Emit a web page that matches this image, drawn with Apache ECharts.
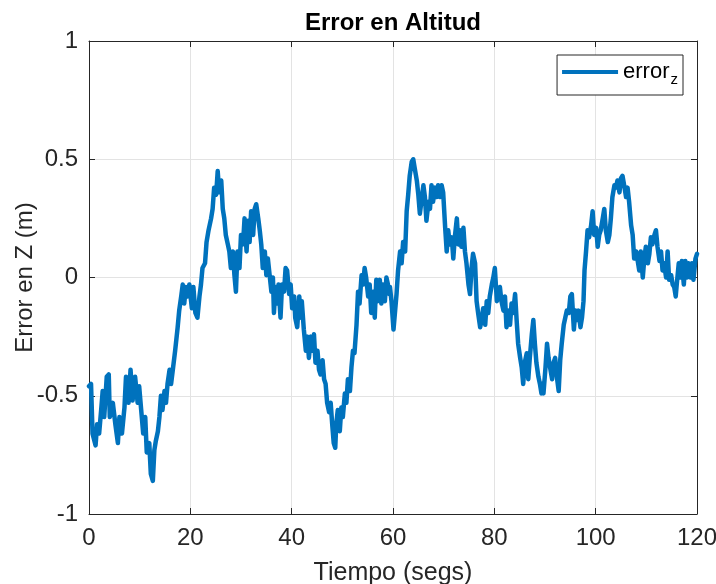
<!DOCTYPE html>
<html>
<head>
<meta charset="utf-8">
<script src="https://cdn.jsdelivr.net/npm/echarts@6/dist/echarts.min.js"></script>
<style>
html,body{margin:0;padding:0;background:#fff;}
#chart{width:716px;height:584px;}
</style>
</head>
<body>
<div id="chart"></div>
<script>
// ---- Data (time in s, altitude error in m) ----
var timeA = [0.0,0.4,0.7,1.3,1.6,2.0,2.4,2.7,3.0,3.5,3.9,4.1,4.7,5.2,5.7,6.0,6.5,7.0,7.3,7.8,8.2,8.6,9.1,9.6,9.9,10.3,10.7,11.1,11.4,11.9,12.2,12.6,12.9,13.2,13.6,13.9,14.2,14.5,14.9,15.2,15.5,15.9,16.2,16.6,17.0,17.5,17.8,18.2,18.5,18.8,19.1,19.5,19.8,20.3,20.6,21.0,21.4,21.8,22.1,22.4,22.9,23.2,23.6,24.1,24.4,24.7,25.1,25.4,25.7,26.1,26.4,26.7,27.0,27.4,27.7,28.0,28.4,28.7,29.0,29.3,29.7,30.0];
var errA = [-0.46,-0.45,-0.66,-0.71,-0.62,-0.66,-0.56,-0.48,-0.59,-0.42,-0.41,-0.59,-0.53,-0.62,-0.70,-0.59,-0.66,-0.55,-0.42,-0.53,-0.39,-0.52,-0.42,-0.53,-0.46,-0.56,-0.66,-0.59,-0.74,-0.70,-0.83,-0.86,-0.73,-0.69,-0.65,-0.59,-0.50,-0.56,-0.48,-0.53,-0.45,-0.39,-0.45,-0.38,-0.31,-0.21,-0.14,-0.08,-0.03,-0.11,-0.04,-0.08,-0.03,-0.13,-0.04,-0.15,-0.17,-0.08,-0.03,0.04,0.06,0.15,0.20,0.25,0.29,0.38,0.35,0.45,0.36,0.41,0.29,0.25,0.18,0.14,0.11,0.04,0.11,0.01,-0.06,0.11,0.04,0.18];

var timeB = [30.4,30.7,31.1,31.4,31.7,32.0,32.4,32.7,33.0,33.4,33.7,34.0,34.3,34.7,35.0,35.3,35.7,36.0,36.3,36.5,36.8,37.2,37.4,37.8,38.1,38.5,38.8,39.1,39.5,39.8,40.1,40.5,40.7,41.1,41.5,41.8,42.0,42.4,42.8,43.1,43.4,43.8,44.0,44.4,44.7,45.1,45.4,45.7,46.1,46.4,46.7,47.0,47.4,47.7,48.0,48.3,48.6,48.8,49.1,49.5,49.8,50.1,50.5,50.8,51.1,51.5,51.8,52.1,52.4,52.8,53.1,53.4,53.8,54.1,54.4,54.7,55.1,55.4,55.7,56.1,56.4,56.7,57.0,57.4,57.7,58.0,58.4,58.7,59.0,59.3];
var errB = [0.14,0.25,0.11,0.24,0.15,0.28,0.18,0.29,0.31,0.25,0.20,0.14,0.04,0.11,0.01,0.08,0.0,-0.06,0.0,-0.15,-0.04,-0.11,-0.03,-0.17,-0.03,-0.06,0.04,0.03,-0.07,-0.03,-0.13,-0.08,-0.17,-0.21,-0.08,-0.17,-0.10,-0.22,-0.31,-0.25,-0.34,-0.25,-0.31,-0.24,-0.36,-0.31,-0.39,-0.41,-0.35,-0.43,-0.45,-0.53,-0.57,-0.53,-0.62,-0.70,-0.72,-0.62,-0.56,-0.65,-0.55,-0.59,-0.49,-0.53,-0.43,-0.48,-0.38,-0.31,-0.32,-0.20,-0.06,-0.11,0.01,-0.03,0.04,0.0,-0.08,-0.03,-0.15,-0.06,-0.17,-0.01,-0.10,-0.01,-0.11,-0.03,-0.10,0.0,-0.03,-0.07];

var timeC = [59.4,59.7,60.1,60.4,60.7,61.0,61.4,61.7,62.0,62.4,62.7,63.0,63.3,63.7,64.0,64.3,64.7,65.0,65.3,65.6,66.0,66.3,66.6,67.0,67.3,67.6,67.9,68.3,68.6,68.9,69.3,69.6,69.9,70.3,70.6,70.9,71.2,71.6,71.9,72.2,72.6,72.9,73.2,73.5,73.9,74.2,74.5,74.9,75.2,75.5,75.8,76.2,76.5,76.8,77.2,77.5,77.8,78.2,78.5,78.8,79.1,79.5,79.8,80.1,80.5,80.8,81.1,81.4,81.8,82.1,82.4,82.8,83.1,83.4,83.7,84.1,84.4,84.7,85.1,85.4,85.7,86.0,86.4,86.7,87.0,87.4,87.7,88.0,88.3,88.7,89.0,89.3];
var errC = [-0.04,-0.10,-0.22,-0.22,-0.07,0.03,0.11,0.06,0.15,0.11,0.28,0.35,0.43,0.49,0.50,0.46,0.41,0.35,0.27,0.32,0.39,0.34,0.24,0.32,0.29,0.39,0.32,0.38,0.34,0.39,0.34,0.39,0.36,0.21,0.11,0.20,0.14,0.17,0.08,0.17,0.25,0.14,0.20,0.13,0.21,0.11,0.06,-0.03,-0.07,0.04,0.10,0.06,-0.10,-0.15,-0.21,-0.18,-0.13,-0.20,-0.10,-0.15,-0.08,-0.03,0.0,0.04,-0.10,-0.06,-0.04,-0.10,-0.14,-0.08,-0.21,-0.14,-0.20,-0.11,-0.15,-0.07,-0.18,-0.28,-0.34,-0.38,-0.45,-0.36,-0.32,-0.43,-0.34,-0.24,-0.18,-0.28,-0.36,-0.42,-0.45,-0.49];

var timeD = [89.4,89.7,90.1,90.4,90.7,91.0,91.4,91.7,92.0,92.4,92.7,93.0,93.3,93.7,94.0,94.3,94.7,95.0,95.3,95.7,96.0,96.3,96.6,97.0,97.3,97.6,97.8,98.1,98.4,98.7,99.1,99.4,99.7,100.1,100.4,100.7,101.0,101.4,101.7,102.0,102.4,102.7,103.0,103.3,103.7,104.0,104.3,104.7,105.0,105.3,105.7,106.0,106.3,106.6,107.0,107.3,107.6,108.0,108.3,108.6,108.9,109.3,109.6,109.9,110.3,110.6,110.9,111.2,111.6,111.9,112.2,112.6,112.9,113.2,113.5,113.9,114.2,114.5,114.9,115.2,115.5,115.8,116.0,116.4,116.7,117.0,117.4,117.7,118.0,118.3,118.7,119.0,119.3,119.7,120.0];
var errD = [-0.45,-0.49,-0.38,-0.28,-0.34,-0.38,-0.43,-0.36,-0.34,-0.43,-0.48,-0.35,-0.28,-0.20,-0.17,-0.14,-0.15,-0.08,-0.07,-0.22,-0.14,-0.18,-0.14,-0.21,-0.17,-0.10,0.03,0.11,0.20,0.17,0.22,0.28,0.18,0.21,0.13,0.18,0.20,0.25,0.29,0.20,0.15,0.18,0.25,0.34,0.39,0.38,0.41,0.36,0.42,0.43,0.38,0.34,0.38,0.32,0.22,0.18,0.08,0.11,0.07,0.03,0.11,0.0,0.08,0.13,0.06,0.10,0.17,0.14,0.18,0.20,0.13,0.07,0.11,0.03,0.06,0.0,0.11,-0.01,0.01,-0.03,-0.04,-0.08,-0.03,0.06,0.0,0.07,-0.03,0.07,0.0,0.06,0.0,0.06,-0.01,0.08,0.10];

var xTicks = [0, 20, 40, 60, 80, 100, 120];
var yTicks = [-1, -0.5, 0, 0.5, 1];
var seriesName = 'error_z';

// ---- Build the series from the arrays ----
function pairs(t, v) {
  var out = [];
  var n = Math.min(t.length, v.length);
  for (var i = 0; i < n; i++) out.push([t[i], v[i]]);
  return out;
}
var lineData = [].concat(pairs(timeA, errA), pairs(timeB, errB), pairs(timeC, errC), pairs(timeD, errD));

var FONT = '"Liberation Sans", Arial, Helvetica, sans-serif';
var AX = '#262626';
var GRID = '#e3e3e3';

var chart = echarts.init(document.getElementById('chart'), null, {renderer: 'canvas'});
var xCommon = {
  type: 'value', min: xTicks[0], max: xTicks[xTicks.length - 1], interval: 20,
  axisLine: {show: true, onZero: false, lineStyle: {color: AX, width: 1}},
  axisTick: {show: true, inside: true, length: 6, lineStyle: {color: AX}}
};
var yCommon = {
  type: 'value', min: yTicks[0], max: yTicks[yTicks.length - 1], interval: 0.5,
  axisLine: {show: true, onZero: false, lineStyle: {color: AX, width: 1}},
  axisTick: {show: true, inside: true, length: 6, lineStyle: {color: AX}}
};

chart.setOption({
  animation: false,
  backgroundColor: '#fff',
  title: {
    text: 'Error en Altitud',
    left: 393, top: 11, textAlign: 'center', padding: 0,
    textStyle: {fontFamily: FONT, fontSize: 24, fontWeight: 'bold', color: '#000'}
  },
  grid: {left: 89, right: 19, top: 41, bottom: 70, containLabel: false, outerBoundsMode: 'none'},
  legend: {
    data: [seriesName],
    right: 33, top: 55,
    orient: 'vertical',
    backgroundColor: '#fff',
    borderColor: AX, borderWidth: 1,
    padding: [6, 5, 8, 5],
    icon: 'rect', itemWidth: 56, itemHeight: 4, itemGap: 0,
    formatter: function () { return '{a|error}{b|z}'; },
    textStyle: {
      fontFamily: FONT, color: '#000', padding: [0, 0, 0, 0],
      rich: {
        a: {fontFamily: FONT, fontSize: 22, color: '#000'},
        b: {fontFamily: FONT, fontSize: 15, color: '#000', padding: [15, 0, 0, 1]}
      }
    }
  },
  xAxis: [
    Object.assign({}, xCommon, {
      position: 'bottom',
      name: 'Tiempo (segs)', nameLocation: 'middle', nameGap: 47,
      nameMoveOverlap: false,
      nameTextStyle: {fontFamily: FONT, fontSize: 25, color: AX},
      axisLabel: {show: true, margin: 12, fontFamily: FONT, fontSize: 24, color: AX},
      splitLine: {show: true, lineStyle: {color: GRID, width: 1}}
    }),
    Object.assign({}, xCommon, {
      position: 'top',
      axisLabel: {show: false},
      splitLine: {show: false}
    })
  ],
  yAxis: [
    Object.assign({}, yCommon, {
      position: 'left',
      name: 'Error en Z (m)', nameLocation: 'middle', nameGap: 52,
      nameMoveOverlap: false,
      nameTextStyle: {fontFamily: FONT, fontSize: 24, color: AX},
      axisLabel: {show: true, margin: 11, fontFamily: FONT, fontSize: 24, color: AX},
      splitLine: {show: true, lineStyle: {color: GRID, width: 1}}
    }),
    Object.assign({}, yCommon, {
      position: 'right',
      axisLabel: {show: false},
      splitLine: {show: false}
    })
  ],
  series: [{
    name: seriesName,
    type: 'line',
    xAxisIndex: 0, yAxisIndex: 0,
    data: lineData,
    showSymbol: false,
    symbol: 'none',
    lineStyle: {color: '#0072BD', width: 4.5, join: 'round', cap: 'round'},
    itemStyle: {color: '#0072BD'}
  }]
});
</script>
</body>
</html>
